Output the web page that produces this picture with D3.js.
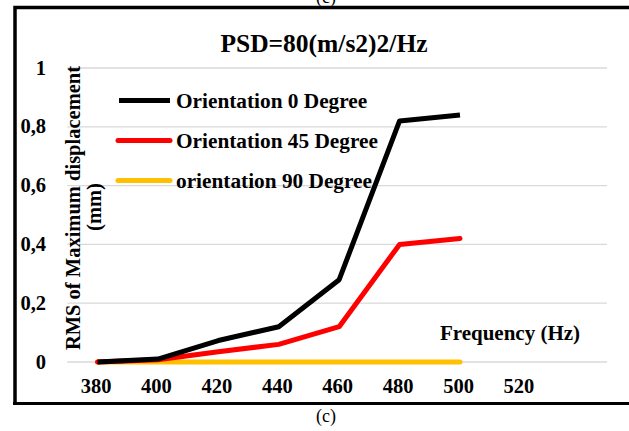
<!DOCTYPE html>
<html>
<head>
<meta charset="utf-8">
<script src="https://cdn.jsdelivr.net/npm/d3@7"></script>
<style>
  body { margin: 0; background: #fff; }
  svg { display: block; font-family: "Liberation Serif", "Times New Roman", serif; }
</style>
</head>
<body>
<svg width="629" height="431"></svg>
<script>
var frequencies = [380, 400, 420, 440, 460, 480, 500]
var orient0 = [0, 0.01, 0.073, 0.12, 0.28, 0.82, 0.84]
var orient45 = [0, 0.008, 0.035, 0.06, 0.12, 0.40, 0.42]
var orient90 = [0, 0, 0, 0, 0, 0, 0]
var xTicks = [380, 400, 420, 440, 460, 480, 500, 520]
var yTicks = [0, 0.2, 0.4, 0.6, 0.8, 1]
var seriesNames = ["Orientation 0 Degree", "Orientation 45 Degree", "orientation 90 Degree"]
var seriesColors = ["#000000", "#ff0000", "#ffc000"]

var svg = d3.select("svg")

var x = d3.scaleLinear().domain([380, 500]).range([97.5, 460])
var y = d3.scaleLinear().domain([0, 1]).range([362, 68])

// frame
svg.append("path")
    .attr("d", "M15,403 L15,7.5 L629,7.5")
    .attr("fill", "none").attr("stroke", "#000").attr("stroke-width", 3.5)
svg.append("line")
    .attr("x1", 13).attr("x2", 629).attr("y1", 403.5).attr("y2", 403.5)
    .attr("stroke", "#000").attr("stroke-width", 3)

// caption (previous one is cut at top)
svg.append("text").attr("x", 326).attr("y", 3).attr("text-anchor", "middle")
    .attr("font-size", 18).text("(c)")
svg.append("text").attr("x", 326).attr("y", 422).attr("text-anchor", "middle")
    .attr("font-size", 18).text("(c)")

// gridlines
svg.append("g").selectAll("line")
    .data(yTicks)
    .enter().append("line")
    .attr("x1", x(370)).attr("x2", 607)
    .attr("y1", function (d) { return y(d) }).attr("y2", function (d) { return y(d) })
    .attr("stroke", "#d9d9d9").attr("stroke-width", 1.3)

// y tick labels
svg.append("g").selectAll("text")
    .data(yTicks)
    .enter().append("text")
    .attr("x", 46).attr("y", function (d) { return y(d) + 6.5 })
    .attr("text-anchor", "end")
    .attr("font-size", 20.5).attr("font-weight", "bold")
    .text(function (d) { return String(d).replace(".", ",") })

// x tick labels
svg.append("g").selectAll("text")
    .data(xTicks)
    .enter().append("text")
    .attr("x", function (d) { return x(d) - 1.5 })
    .attr("y", 393)
    .attr("text-anchor", "middle")
    .attr("font-size", 20.5).attr("font-weight", "bold")
    .text(function (d) { return d })

// title
svg.append("text").attr("x", 324).attr("y", 52).attr("text-anchor", "middle")
    .attr("font-size", 25.5).attr("font-weight", "bold").text("PSD=80(m/s2)2/Hz")

// axis titles
svg.append("text")
    .attr("transform", "translate(80,208) rotate(-90)")
    .attr("text-anchor", "middle")
    .attr("font-size", 20.5).attr("font-weight", "bold")
    .text("RMS of Maximum displacement")
svg.append("text")
    .attr("transform", "translate(101,207) rotate(-90)")
    .attr("text-anchor", "middle")
    .attr("font-size", 20.5).attr("font-weight", "bold")
    .text("(mm)")
svg.append("text").attr("x", 510).attr("y", 340).attr("text-anchor", "middle")
    .attr("font-size", 21).attr("font-weight", "bold").text("Frequency (Hz)")

// lines
var line = d3.line()
    .x(function (d, i) { return x(frequencies[i]) })
    .y(function (d) { return y(d) })

var allSeries = [orient0, orient45, orient90]
for (var k = allSeries.length - 1; k >= 0; k--) {
    svg.append("path")
        .datum(allSeries[k])
        .attr("d", line)
        .attr("fill", "none")
        .attr("stroke", seriesColors[k])
        .attr("stroke-width", 5)
        .attr("stroke-linejoin", "round")
        .attr("stroke-linecap", k == 0 ? "butt" : "round")
}

// legend
var legend = svg.append("g").selectAll("g")
    .data(seriesNames)
    .enter().append("g")
    .attr("transform", function (d, i) { return "translate(0," + (100.5 + i * 40) + ")" })
legend.append("line")
    .attr("x1", function (d, i) { return i == 0 ? 119 : 118 }).attr("x2", 170)
    .attr("stroke", function (d, i) { return seriesColors[i] })
    .attr("stroke-width", 5)
    .attr("stroke-linecap", function (d, i) { return i == 0 ? "butt" : "round" })
legend.append("text")
    .attr("x", 176).attr("y", 7)
    .attr("font-size", 21.3).attr("font-weight", "bold")
    .text(function (d) { return d })
</script>
</body>
</html>
